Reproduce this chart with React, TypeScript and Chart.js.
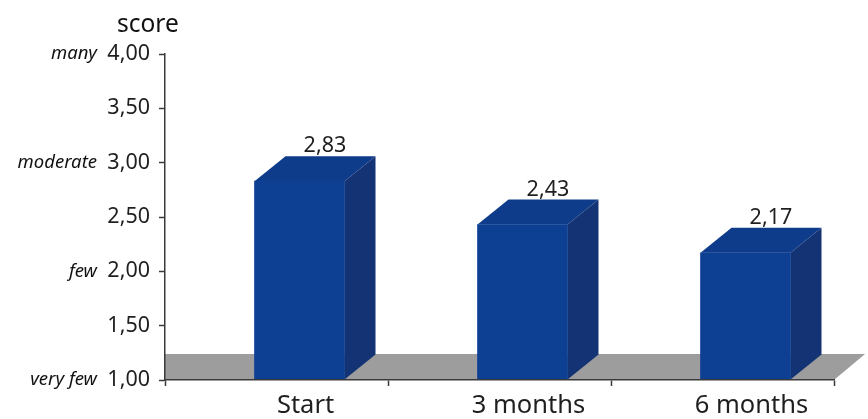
import React, { useEffect, useRef } from "react";
import { Chart, registerables } from "chart.js";

Chart.register(...registerables);

const categories = ["Start", "3 months", "6 months"];
const scores = [2.83, 2.43, 2.17];
const qualitative: Record<number, string> = { 1: "very few", 2: "few", 3: "moderate", 4: "many" };
const axisTitle = "score";

const FONT = "'Noto Sans', 'DejaVu Sans', sans-serif";
const TEXT = "#1f1f1f";
const SHIFT = 23;
const DX = 31;
const DY = 25;

const comma = (v: number) => v.toFixed(2).replace(".", ",");

const bar3d = {
  id: "bar3d",
  beforeDatasetsDraw(chart: any) {
    const { ctx, chartArea: a } = chart;
    ctx.save();
    ctx.fillStyle = "#9c9d9c";
    ctx.beginPath();
    ctx.moveTo(a.left, a.bottom);
    ctx.lineTo(a.left, a.bottom - DY - 1);
    ctx.lineTo(a.right + DX, a.bottom - DY - 1);
    ctx.lineTo(a.right, a.bottom);
    ctx.closePath();
    ctx.fill();
    ctx.translate(SHIFT, 0);
    for (const el of chart.getDatasetMeta(0).data) {
      const l = el.x - el.width / 2;
      const r = el.x + el.width / 2;
      ctx.fillStyle = "#0f3c8a";
      ctx.beginPath();
      ctx.moveTo(l, el.y);
      ctx.lineTo(l + DX, el.y - DY);
      ctx.lineTo(r + DX, el.y - DY);
      ctx.lineTo(r, el.y);
      ctx.closePath();
      ctx.fill();
      ctx.fillStyle = "#143374";
      ctx.beginPath();
      ctx.moveTo(r, el.y);
      ctx.lineTo(r + DX, el.y - DY);
      ctx.lineTo(r + DX, el.base - DY);
      ctx.lineTo(r, el.base);
      ctx.closePath();
      ctx.fill();
    }
  },
  afterDatasetsDraw(chart: any) {
    const { ctx } = chart;
    ctx.fillStyle = TEXT;
    ctx.font = `21.5px ${FONT}`;
    ctx.textAlign = "center";
    ctx.textBaseline = "alphabetic";
    chart.getDatasetMeta(0).data.forEach((el: any, i: number) => {
      ctx.fillText(comma(scores[i]), el.x + DX * 0.82, el.y - DY - 4);
    });
    ctx.restore();
    ctx.save();
    ctx.fillStyle = "#111";
    ctx.font = `24.5px ${FONT}`;
    ctx.textAlign = "left";
    ctx.fillText(axisTitle, 117, 32);
    ctx.restore();
  },
};

export default function App() {
  const ref = useRef<HTMLCanvasElement>(null);
  useEffect(() => {
    const chart = new Chart(ref.current!, {
      type: "bar",
      data: {
        labels: categories,
        datasets: [{ data: scores, base: 1, backgroundColor: "#0d4093", barThickness: 90, yAxisID: "y" }],
      },
      plugins: [bar3d],
      options: {
        animation: false,
        responsive: false,
        layout: { padding: { top: 54, right: 34, left: 0, bottom: 0 } },
        plugins: { legend: { display: false }, tooltip: { enabled: false } },
        scales: {
          x: {
            afterFit: (s: any) => { s.height = 39; },
            border: { color: "#3a3a3a", width: 1.5, z: 1 },
            grid: { offset: true, drawOnChartArea: false, tickLength: 6, tickColor: "#3a3a3a", tickWidth: 1.5, z: 1 },
            ticks: { color: TEXT, font: { family: FONT, size: 25.5 }, labelOffset: 29, padding: 4, maxRotation: 0 },
          },
          y: {
            position: "left",
            min: 1,
            max: 4,
            afterFit: (s: any) => { s.width = 65; },
            border: { color: "#3a3a3a", width: 1.5, z: 1 },
            grid: { drawOnChartArea: false, tickLength: 6, tickColor: "#3a3a3a", tickWidth: 1.5, z: 1 },
            ticks: {
              stepSize: 0.5,
              padding: 9,
              color: TEXT,
              font: { family: FONT, size: 21.5 },
              callback: (v: any) => comma(Number(v)),
            },
          },
          y2: {
            position: "left",
            min: 1,
            max: 4,
            afterFit: (s: any) => { s.width = 100; },
            border: { display: false },
            grid: { display: false, drawTicks: false },
            ticks: {
              stepSize: 1,
              padding: 3,
              color: "#111",
              font: { family: FONT, size: 18.5, style: "italic" },
              callback: (v: any) => qualitative[v] ?? "",
            },
          },
        },
      } as any,
    });
    return () => chart.destroy();
  }, []);
  return (
    <div style={{ position: "absolute", left: 0, top: 0, width: 868, height: 419 }}>
      <canvas ref={ref} width={868} height={419} style={{ display: "block" }} />
    </div>
  );
}
